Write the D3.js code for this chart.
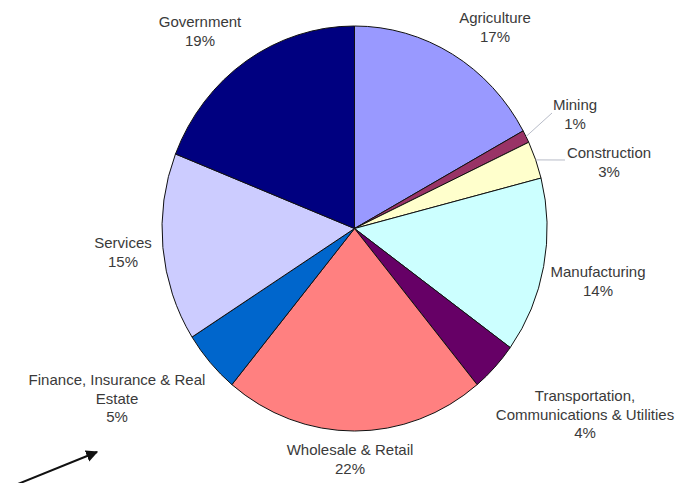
<!DOCTYPE html>
<html>
<head>
<meta charset="utf-8">
<script src="https://cdn.jsdelivr.net/npm/d3@7"></script>
<style>
  body { margin: 0; background: #fff; }
  text { font-family: "Liberation Sans", Arial, sans-serif; font-size: 15px; fill: #3a3a3a; }
</style>
</head>
<body>
<svg id="canvas_pie" width="679" height="483"></svg>
<script>
'use strict';

/* sectors, clockwise from 12 o'clock */
const sectors = ['Agriculture', 'Mining', 'Construction', 'Manufacturing',
  'Transportation, Communications & Utilities', 'Wholesale & Retail',
  'Finance, Insurance & Real Estate', 'Services', 'Government'];
const shares = [17, 1, 3, 14, 4, 22, 5, 15, 19];
const colors = ['#9999ff', '#993366', '#ffffcc', '#ccffff', '#660066',
  '#ff8080', '#0066cc', '#ccccff', '#000080'];

/* label lines as they are wrapped in the picture */
const labelLines = [
  ['Agriculture'], ['Mining'], ['Construction'], ['Manufacturing'],
  ['Transportation,', 'Communications & Utilities'], ['Wholesale & Retail'],
  ['Finance, Insurance & Real', 'Estate'], ['Services'], ['Government']
];

const cx = 354.5, cy = 228.5, rx = 192.5, ry = 202.5;

let svg = d3.select('svg#canvas_pie');

let pie = d3.pie().sort(null).value(d => d)(shares);
let arc = d3.arc().innerRadius(0).outerRadius(1);

/* the pie is slightly taller than wide, so draw a unit pie and stretch it */
let g = svg.append('g')
  .attr('transform', 'translate(' + cx + ',' + cy + ') scale(' + rx + ',' + ry + ')');

g.selectAll('path')
  .data(pie)
  .enter().append('path')
  .attr('d', arc)
  .attr('fill', (d, i) => colors[i])
  .attr('stroke', '#111')
  .attr('stroke-width', 1)
  .attr('vector-effect', 'non-scaling-stroke');

/* label anchor points (centre of the first line) */
const labelPos = [
  [495, 18], [575, 105], [609, 153], [598, 272], [585, 396],
  [350, 450], [117, 380], [123, 243], [200, 22]
];

labelLines.forEach((lines, i) => {
  let t = svg.append('text')
    .attr('text-anchor', 'middle')
    .attr('x', labelPos[i][0])
    .attr('y', labelPos[i][1] + 5);
  lines.concat([shares[i] + '%']).forEach((s, j) => {
    t.append('tspan')
      .attr('x', labelPos[i][0])
      .attr('dy', j == 0 ? 0 : 18.5)
      .text(s);
  });
});

/* leader lines for the two thin slices */
function edgePoint(d){
  let a = (d.startAngle + d.endAngle) / 2;
  return [cx + rx * Math.sin(a), cy - ry * Math.cos(a)];
}
[[1, 552, 113], [2, 565, 160]].forEach(([i, x2, y2]) => {
  let p = edgePoint(pie[i]);
  svg.append('line')
    .attr('x1', p[0]).attr('y1', p[1])
    .attr('x2', x2).attr('y2', y2)
    .attr('stroke', '#b8bcc8')
    .attr('stroke-width', 1);
});

/* arrow in the bottom-left corner */
svg.append('defs').append('marker')
  .attr('id', 'head')
  .attr('viewBox', '0 0 10 10')
  .attr('refX', 9).attr('refY', 5)
  .attr('markerWidth', 6).attr('markerHeight', 6)
  .attr('markerUnits', 'strokeWidth')
  .attr('orient', 'auto')
  .append('path')
  .attr('d', 'M0,0 L10,5 L0,10 z')
  .attr('fill', '#111');

svg.append('line')
  .attr('x1', 8).attr('y1', 488)
  .attr('x2', 97).attr('y2', 452)
  .attr('stroke', '#111')
  .attr('stroke-width', 2)
  .attr('marker-end', 'url(#head)');
</script>
</body>
</html>
